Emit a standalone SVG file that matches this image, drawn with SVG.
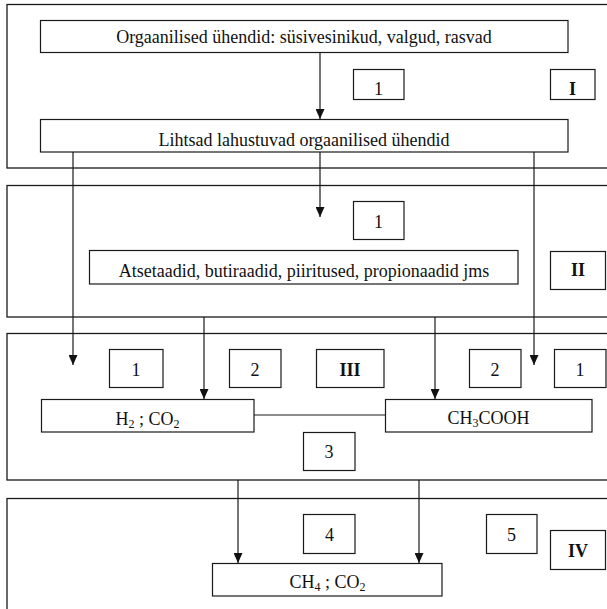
<svg xmlns="http://www.w3.org/2000/svg" width="607" height="609" viewBox="0 0 607 609">
<defs>
<style>
.sec{fill:none;stroke:#1a1a1a;stroke-width:1.3}
.box{fill:#fff;stroke:#1a1a1a;stroke-width:1.2}
.ln{fill:none;stroke:#1a1a1a;stroke-width:1.2}
.t{font-family:"Liberation Serif","Times New Roman",serif;font-size:18px;fill:#111;text-anchor:middle}
.b{font-weight:bold}
.sub{font-size:12px}
</style>
<marker id="ah" viewBox="0 0 10 9" refX="10" refY="4.5" markerWidth="10" markerHeight="9" markerUnits="userSpaceOnUse" orient="auto" preserveAspectRatio="none">
<path d="M0,0 L10,4.5 L0,9 z" fill="#111"/>
</marker>
</defs>
<rect width="607" height="609" fill="#fff"/>
<g id="sections">
<rect class="sec" x="7" y="4.5" width="620" height="163.5"/>
<rect class="sec" x="7" y="185.5" width="620" height="131.5"/>
<rect class="sec" x="7" y="333.5" width="620" height="146.5"/>
<rect class="sec" x="7" y="498.5" width="620" height="130"/>
</g>
<g id="connectors">
<line class="ln" x1="320" y1="53" x2="320" y2="119" marker-end="url(#ah)"/>
<line class="ln" x1="320" y1="152" x2="320" y2="217" marker-end="url(#ah)"/>
<line class="ln" x1="73" y1="152" x2="73" y2="365" marker-end="url(#ah)"/>
<line class="ln" x1="534" y1="152" x2="534" y2="365" marker-end="url(#ah)"/>
<line class="ln" x1="204" y1="317" x2="204" y2="399" marker-end="url(#ah)"/>
<line class="ln" x1="435" y1="317" x2="435" y2="399" marker-end="url(#ah)"/>
<line class="ln" x1="254" y1="415" x2="385" y2="415"/>
<line class="ln" x1="238" y1="480" x2="238" y2="563" marker-end="url(#ah)"/>
<line class="ln" x1="419" y1="480" x2="419" y2="563" marker-end="url(#ah)"/>
</g>
<g id="n-orgaanilised">
<rect class="box" x="40.5" y="20.5" width="527.5" height="32"/>
<text class="t" x="304" y="43">Orgaanilised ühendid: süsivesinikud, valgud, rasvad</text>
</g>
<g id="n-lihtsad">
<rect class="box" x="40.5" y="119.5" width="527.5" height="32.5"/>
<text class="t" x="304" y="146">Lihtsad lahustuvad orgaanilised ühendid</text>
</g>
<g id="n-atsetaadid">
<rect class="box" x="89.5" y="250.5" width="428.5" height="33.5"/>
<text class="t" x="304" y="277">Atsetaadid, butiraadid, piiritused, propionaadid jms</text>
</g>
<g id="n-h2co2">
<rect class="box" x="41.5" y="399.5" width="212.5" height="32.5"/>
<text class="t" x="147.5" y="425">H<tspan class="sub" dy="3">2</tspan><tspan dy="-3"> ; CO</tspan><tspan class="sub" dy="3">2</tspan></text>
</g>
<g id="n-ch3cooh">
<rect class="box" x="385.5" y="399.5" width="206.5" height="32.5"/>
<text class="t" x="488.5" y="424">CH<tspan class="sub" dy="3">3</tspan><tspan dy="-3">COOH</tspan></text>
</g>
<g id="n-ch4co2">
<rect class="box" x="212.5" y="563.5" width="229.5" height="32.5"/>
<text class="t" x="327.5" y="588">CH<tspan class="sub" dy="3">4</tspan><tspan dy="-3"> ; CO</tspan><tspan class="sub" dy="3">2</tspan></text>
</g>
<g id="l-1a"><rect class="box" x="353.5" y="69.5" width="50.5" height="30"/><text class="t" x="378.5" y="95">1</text></g>
<g id="l-I"><rect class="box" x="550.5" y="69.5" width="44.5" height="30"/><text class="t b" x="572.5" y="95">I</text></g>
<g id="l-1b"><rect class="box" x="353.5" y="201.5" width="50.5" height="38"/><text class="t" x="378.5" y="228">1</text></g>
<g id="l-II"><rect class="box" x="550.5" y="251.5" width="55" height="38"/><text class="t b" x="578" y="276">II</text></g>
<g id="l-1c"><rect class="box" x="109.5" y="349.5" width="53.5" height="38"/><text class="t" x="136" y="376">1</text></g>
<g id="l-2a"><rect class="box" x="229.5" y="349.5" width="51.5" height="38"/><text class="t" x="255" y="376">2</text></g>
<g id="l-III"><rect class="box" x="316.5" y="349.5" width="67.5" height="38"/><text class="t b" x="350" y="376">III</text></g>
<g id="l-2b"><rect class="box" x="469.5" y="349.5" width="51.5" height="38"/><text class="t" x="495" y="376">2</text></g>
<g id="l-1d"><rect class="box" x="554.5" y="349.5" width="51.5" height="38"/><text class="t" x="580" y="376">1</text></g>
<g id="l-3"><rect class="box" x="303.5" y="432.5" width="51.5" height="38"/><text class="t" x="329" y="458">3</text></g>
<g id="l-4"><rect class="box" x="303.5" y="514.5" width="51.5" height="39"/><text class="t" x="329.5" y="541">4</text></g>
<g id="l-5"><rect class="box" x="486.5" y="514.5" width="50.5" height="39"/><text class="t" x="511.5" y="541">5</text></g>
<g id="l-IV"><rect class="box" x="550.5" y="530.5" width="55" height="39"/><text class="t b" x="578" y="557">IV</text></g>
</svg>
